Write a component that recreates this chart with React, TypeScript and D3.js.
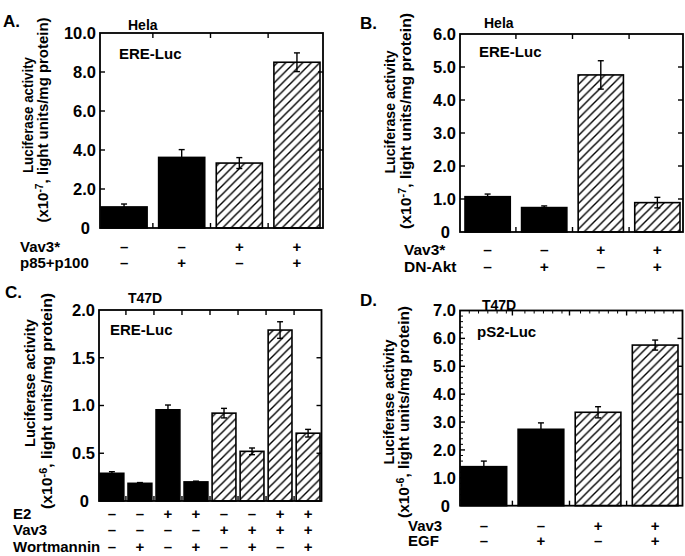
import React from "react";
import * as d3 from "d3";

const FONT = "'Liberation Sans', Arial, Helvetica, sans-serif";

// ---------- Data ----------
// Panel A (Hela, ERE-Luc, x10^-7)
const aValues = [1.08, 3.62, 3.33, 8.5];
const aErrors = [0.15, 0.4, 0.28, 0.48];
const aHatched = [false, false, true, true];
const aTicks = [0, 2, 4, 6, 8, 10];
const aTickLabels = ["0", "2.0", "4.0", "6.0", "8.0", "10.0"];
const aRowNames = ["Vav3*", "p85+p100"];
const aRowSigns = [
  ["–", "–", "+", "+"],
  ["–", "+", "–", "+"],
];

// Panel B (Hela, ERE-Luc, x10^-7)
const bValues = [1.07, 0.74, 4.76, 0.89];
const bErrors = [0.08, 0.05, 0.43, 0.16];
const bHatched = [false, false, true, true];
const bTicks = [0, 1, 2, 3, 4, 5, 6];
const bTickLabels = ["0", "1.0", "2.0", "3.0", "4.0", "5.0", "6.0"];
const bRowNames = ["Vav3*", "DN-Akt"];
const bRowSigns = [
  ["–", "–", "+", "+"],
  ["–", "+", "–", "+"],
];

// Panel C (T47D, ERE-Luc, x10^-6)
const cValues = [0.29, 0.185, 0.955, 0.2, 0.92, 0.52, 1.79, 0.71];
const cErrors = [0.017, 0.008, 0.05, 0.008, 0.05, 0.035, 0.087, 0.04];
const cHatched = [false, false, false, false, true, true, true, true];
const cTicks = [0, 0.5, 1, 1.5, 2];
const cTickLabels = ["0", "0.5", "1.0", "1.5", "2.0"];
const cRowNames = ["E2", "Vav3", "Wortmannin"];
const cRowSigns = [
  ["–", "–", "+", "+", "–", "–", "+", "+"],
  ["–", "–", "–", "–", "+", "+", "+", "+"],
  ["–", "+", "–", "+", "–", "+", "–", "+"],
];

// Panel D (T47D, pS2-Luc, x10^-6)
const dValues = [1.4, 2.74, 3.35, 5.76];
const dErrors = [0.2, 0.23, 0.2, 0.18];
const dHatched = [false, false, true, true];
const dTicks = [0, 1, 2, 3, 4, 5, 6, 7];
const dTickLabels = ["0", "1.0", "2.0", "3.0", "4.0", "5.0", "6.0", "7.0"];
const dRowNames = ["Vav3", "EGF"];
const dRowSigns = [
  ["–", "–", "+", "+"],
  ["–", "+", "–", "+"],
];

// ---------- Layout ----------
type Layout = {
  l: number; r: number; t: number; b: number;
  barL: number; barR: number; pad: number;
  letter: [string, number, number];
  cell: [string, number, number];
  reporter: [string, number, number];
  rowX: number; rowYs: number[]; rowFont: number;
  t1: [number, number, number];
  t2: [number, number, number];
  exp: string;
  minor?: boolean;
};

const layoutA: Layout = {
  l: 100, r: 323, t: 33, b: 228, barL: 101, barR: 320, pad: 0.2,
  letter: ["A.", 3, 27], cell: ["Hela", 128, 30], reporter: ["ERE-Luc", 119, 59],
  rowX: 20, rowYs: [251.5, 267.5], rowFont: 15,
  t1: [28, 115, 116], t2: [43, 120, 205], exp: "-7",
};
const layoutB: Layout = {
  l: 460, r: 683, t: 34, b: 232, barL: 465, barR: 680, pad: 0.2,
  letter: ["B.", 360, 29], cell: ["Hela", 484, 28], reporter: ["ERE-Luc", 479, 57],
  rowX: 404, rowYs: [255, 272], rowFont: 15.5,
  t1: [390, 112, 123], t2: [406, 121, 216], exp: "-7",
};
const layoutC: Layout = {
  l: 99, r: 321.5, t: 310, b: 501, barL: 100, barR: 320, pad: 0.15,
  letter: ["C.", 5, 298], cell: ["T47D", 128, 303], reporter: ["ERE-Luc", 110, 335],
  rowX: 13, rowYs: [519, 535, 552], rowFont: 15,
  t1: [30, 383, 128], t2: [47, 401, 216], exp: "-6",
};
const layoutD: Layout = {
  l: 460, r: 682.5, t: 310.5, b: 505.7, barL: 461, barR: 678, pad: 0.2,
  letter: ["D.", 360, 306], cell: ["T47D", 482, 310], reporter: ["pS2-Luc", 477, 337],
  rowX: 408, rowYs: [530.5, 546], rowFont: 15,
  t1: [389, 402, 125], t2: [404, 412, 212], exp: "-6", minor: true,
};

type PanelProps = {
  lay: Layout;
  values: number[];
  errors: number[];
  hatched: boolean[];
  ticks: number[];
  tickLabels: string[];
  rowNames: string[];
  rowSigns: string[][];
};

function Panel({ lay, values, errors, hatched, ticks, tickLabels, rowNames, rowSigns }: PanelProps) {
  const n = values.length;
  const yMax = ticks[ticks.length - 1];
  const x = d3
    .scaleBand<number>()
    .domain(d3.range(n))
    .range([lay.barL, lay.barR])
    .paddingInner(lay.pad)
    .paddingOuter(0);
  const y = d3.scaleLinear().domain([0, yMax]).range([lay.b, lay.t]);
  const bw = x.bandwidth();
  const boundaries = d3.range(1, n).map((i) => (x(i - 1)! + bw + x(i)!) / 2);
  const cx = (i: number) => x(i)! + bw / 2;

  const minorY: number[] = [];
  const minorX: number[] = [];
  if (lay.minor) {
    const yStep = ticks[1] - ticks[0];
    for (let k = 0; k < ticks.length - 1; k++) {
      for (let j = 1; j < 5; j++) minorY.push(ticks[k] + (yStep * j) / 5);
    }
    const catW = (lay.r - lay.l) / n;
    for (let i = 0; i < n; i++) {
      for (let j = 1; j < 6; j++) minorX.push(lay.l + i * catW + (catW * j) / 6);
    }
  }

  const stroke = "#000";
  return (
    <g>
      {values.map((v, i) => (
        <rect
          key={"bar" + i}
          x={x(i)}
          y={y(v)}
          width={bw}
          height={lay.b - y(v)}
          fill={hatched[i] ? "url(#hatch)" : "#000"}
          stroke="#000"
          strokeWidth={1.6}
        />
      ))}
      {values.map((v, i) => {
        const c = cx(i);
        const capW = Math.min(6, bw * 0.25);
        const y1 = y(v + errors[i]);
        const y2 = y(v - errors[i]);
        return (
          <g key={"err" + i} stroke={stroke} strokeWidth={1.4}>
            <line x1={c} x2={c} y1={y1} y2={y2} />
            <line x1={c - capW / 2} x2={c + capW / 2} y1={y1} y2={y1} />
            <line x1={c - capW / 2} x2={c + capW / 2} y1={y2} y2={y2} />
          </g>
        );
      })}
      <rect x={lay.l} y={lay.t} width={lay.r - lay.l} height={lay.b - lay.t} fill="none" stroke="#000" strokeWidth={1.8} />
      {ticks.slice(1, -1).map((t) => (
        <g key={"yt" + t} stroke={stroke} strokeWidth={1.4}>
          <line x1={lay.l} x2={lay.l + 5} y1={y(t)} y2={y(t)} />
          <line x1={lay.r - 5} x2={lay.r} y1={y(t)} y2={y(t)} />
        </g>
      ))}
      {minorY.map((t, k) => (
        <line key={"my" + k} x1={lay.l} x2={lay.l + 3} y1={y(t)} y2={y(t)} stroke={stroke} strokeWidth={1} />
      ))}
      {minorX.map((mx, k) => (
        <line key={"mx" + k} x1={mx} x2={mx} y1={lay.t} y2={lay.t + 3} stroke={stroke} strokeWidth={1} />
      ))}
      {boundaries.map((bx, k) => (
        <g key={"xt" + k} stroke={stroke} strokeWidth={1.4}>
          <line x1={bx} x2={bx} y1={lay.t} y2={lay.t + 5} />
          <line x1={bx} x2={bx} y1={lay.b} y2={lay.b - 5} />
        </g>
      ))}
      {ticks.map((t, k) => (
        <text
          key={"tl" + k}
          x={t === 0 ? lay.l - 10 : lay.l - 4}
          y={y(t)}
          dy="0.36em"
          textAnchor="end"
          fontFamily={FONT}
          fontWeight="bold"
          fontSize={16.5}
        >
          {tickLabels[k]}
        </text>
      ))}
      <text
        transform={`translate(${lay.t1[0]},${lay.t1[1]}) rotate(-90)`}
        textAnchor="middle"
        dy="0.35em"
        fontFamily={FONT}
        fontWeight="bold"
        fontSize={14.5}
        textLength={lay.t1[2]}
        lengthAdjust="spacingAndGlyphs"
      >
        Luciferase activity
      </text>
      <text
        transform={`translate(${lay.t2[0]},${lay.t2[1]}) rotate(-90)`}
        textAnchor="middle"
        fontFamily={FONT}
        fontWeight="bold"
        fontSize={14.5}
        textLength={lay.t2[2]}
        lengthAdjust="spacingAndGlyphs"
      >
        <tspan dy="0.35em">(x10</tspan>
        <tspan dy="-5" fontSize={10}>{lay.exp}</tspan>
        <tspan dy="5">, light units/mg protein)</tspan>
      </text>
      <text x={lay.letter[1]} y={lay.letter[2]} fontFamily={FONT} fontWeight="bold" fontSize={17}>
        {lay.letter[0]}
      </text>
      <text x={lay.cell[1]} y={lay.cell[2]} fontFamily={FONT} fontWeight="bold" fontSize={14}>
        {lay.cell[0]}
      </text>
      <text x={lay.reporter[1]} y={lay.reporter[2]} fontFamily={FONT} fontWeight="bold" fontSize={15}>
        {lay.reporter[0]}
      </text>
      {rowNames.map((name, r) => (
        <g key={"row" + r}>
          <text x={lay.rowX} y={lay.rowYs[r]} fontFamily={FONT} fontWeight="bold" fontSize={lay.rowFont}>
            {name}
          </text>
          {rowSigns[r].map((s, i) => (
            <text
              key={"s" + i}
              x={cx(i)}
              y={lay.rowYs[r]}
              textAnchor="middle"
              fontFamily={FONT}
              fontWeight="bold"
              fontSize={lay.rowFont}
            >
              {s}
            </text>
          ))}
        </g>
      ))}
    </g>
  );
}

export default function App() {
  return (
    <svg
      width={685}
      height={556}
      viewBox="0 0 685 556"
      style={{ position: "absolute", left: 0, top: 0, background: "#fff" }}
    >
      <defs>
        <pattern id="hatch" patternUnits="userSpaceOnUse" width={8.5} height={8.5}>
          <rect width={8.5} height={8.5} fill="#fff" />
          <path d="M-1,1 l2,-2 M0,8.5 l8.5,-8.5 M7.5,9.5 l2,-2" stroke="#000" strokeWidth={1.4} />
        </pattern>
      </defs>
      <rect width={685} height={556} fill="#fff" />
      <Panel lay={layoutA} values={aValues} errors={aErrors} hatched={aHatched} ticks={aTicks} tickLabels={aTickLabels} rowNames={aRowNames} rowSigns={aRowSigns} />
      <Panel lay={layoutB} values={bValues} errors={bErrors} hatched={bHatched} ticks={bTicks} tickLabels={bTickLabels} rowNames={bRowNames} rowSigns={bRowSigns} />
      <Panel lay={layoutC} values={cValues} errors={cErrors} hatched={cHatched} ticks={cTicks} tickLabels={cTickLabels} rowNames={cRowNames} rowSigns={cRowSigns} />
      <Panel lay={layoutD} values={dValues} errors={dErrors} hatched={dHatched} ticks={dTicks} tickLabels={dTickLabels} rowNames={dRowNames} rowSigns={dRowSigns} />
    </svg>
  );
}
